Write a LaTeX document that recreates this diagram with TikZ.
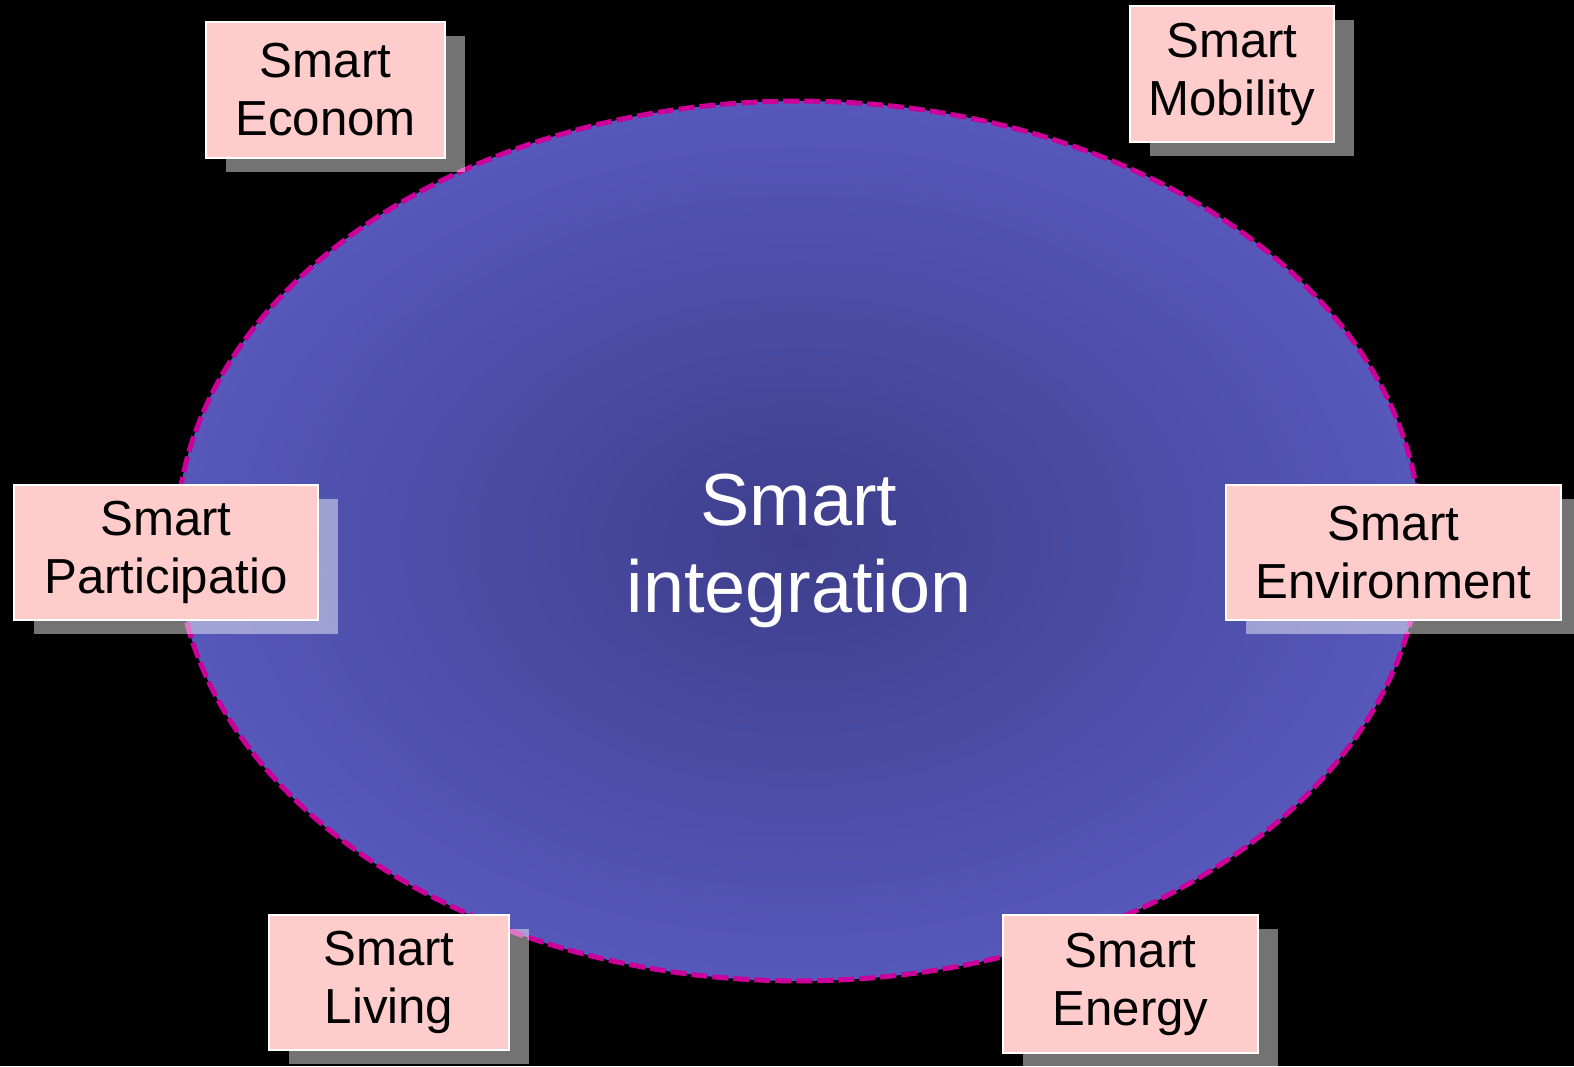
\documentclass[tikz,border=0pt]{standalone}
\usepackage{fontspec}
\setmainfont{Liberation Sans}
\usetikzlibrary{shapes.geometric,shadows}

\definecolor{hubedge}{RGB}{86,88,186}
\definecolor{hubcore}{RGB}{62,62,140}
\definecolor{rim}{RGB}{204,0,153}
\definecolor{boxpink}{RGB}{255,204,204}

\begin{document}
\begin{tikzpicture}[x=0.02cm, y=-0.02cm]
  % Background
  \fill[black] (0,0) rectangle (1574,1066);
  \useasboundingbox (0,0) rectangle (1574,1066);

  % Hub
  \node[ellipse, draw=rim, line width=0.1cm, dash pattern=on 0.32cm off 0.1cm,
        inner color=hubcore, outer color=hubedge,
        minimum width=24.9cm, minimum height=17.6cm] (hub) at (798.5,541) {};
  \node[text=white, align=center, font=\fontsize{42}{49.5}\selectfont] (hubtext) at (799,551) {Smart\\integration};

  % Areas
  \begin{scope}[every node/.style={draw=white, line width=0.04cm, fill=boxpink, align=center,
      font=\fontsize{28}{33}\selectfont, inner sep=0pt,
      drop shadow={shadow xshift=0.4cm, shadow yshift=-0.28cm, fill=white, opacity=0.45}}]

    \node[minimum width=4.78cm, minimum height=2.72cm] (econ) at (325.5,90) {Smart\\Econom};
    \node[minimum width=4.08cm, minimum height=2.72cm] (mob) at (1232,74) {Smart\\Mobility};

    \node[minimum width=6.08cm, minimum height=2.70cm] (part) at (166,552.5) {Smart\\Participatio};
    \node[minimum width=6.70cm, minimum height=2.70cm] (env) at (1393.5,552.5) {Smart\\Environment};

    \node[minimum width=4.80cm, minimum height=2.70cm] (liv) at (389,982.5) {Smart\\Living};
    \node[minimum width=5.10cm, minimum height=2.76cm] (ener) at (1130.5,984) {Smart\\Energy};

  \end{scope}
\end{tikzpicture}
\end{document}
